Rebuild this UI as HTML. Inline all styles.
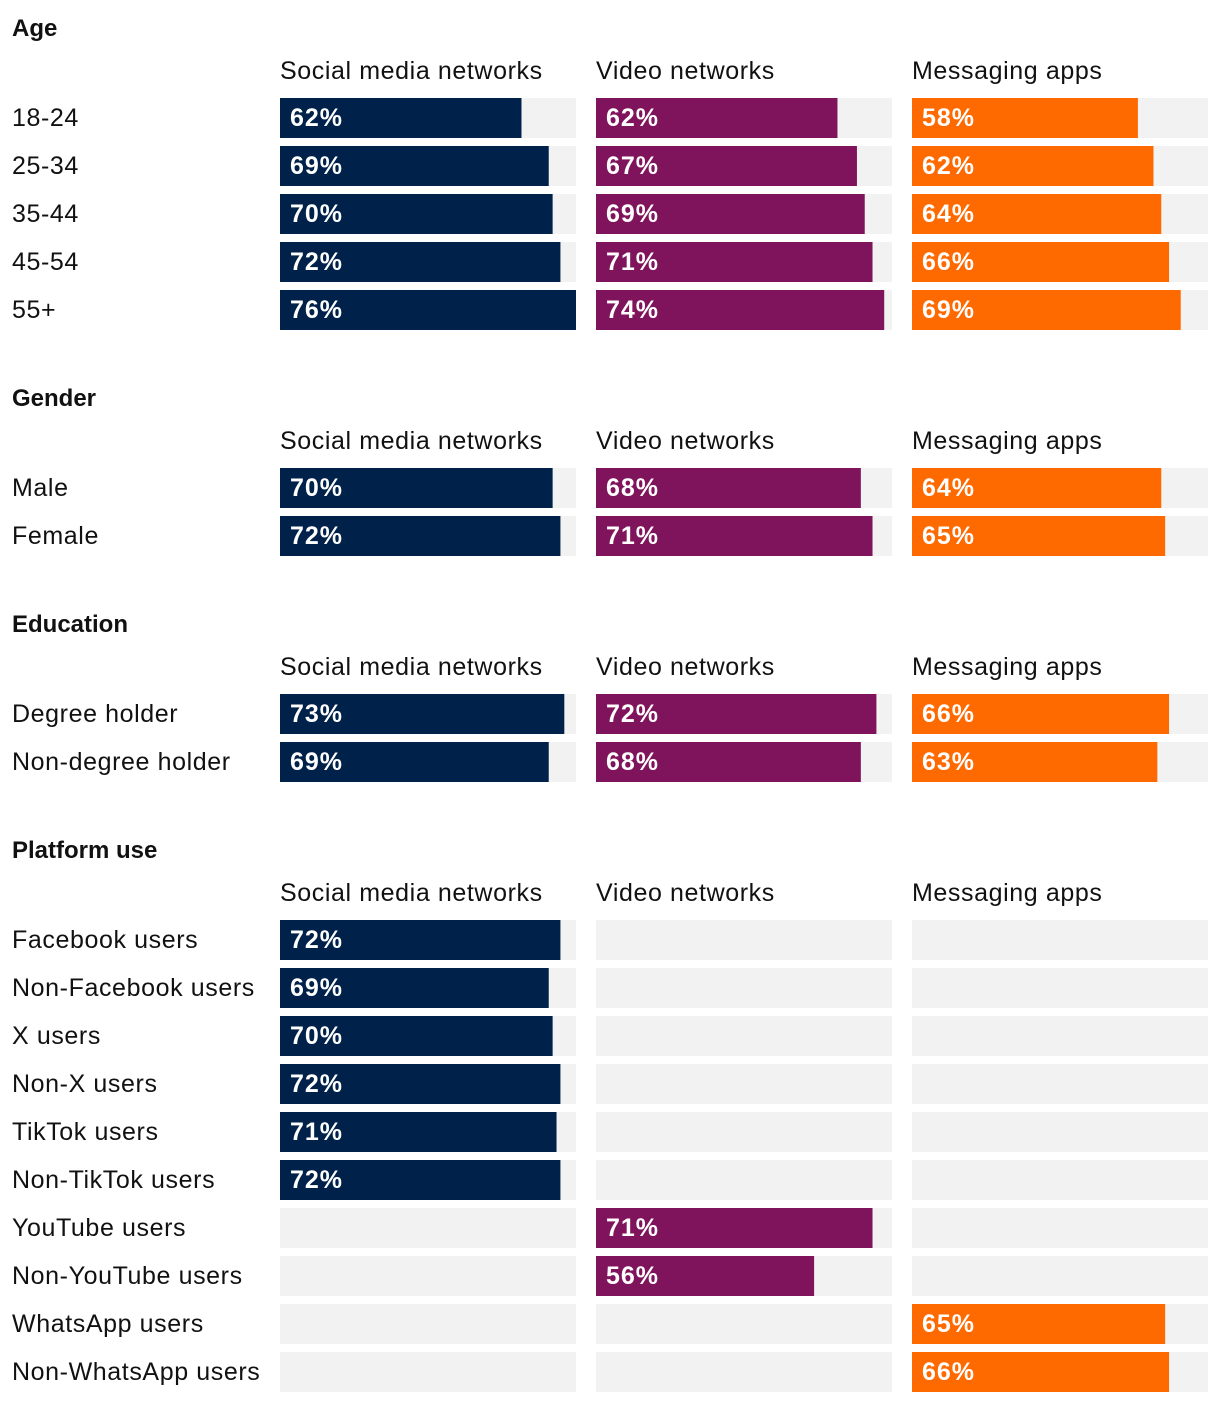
<!DOCTYPE html>
<html><head><meta charset="utf-8"><style>
html,body{margin:0;padding:0;background:#fff;}
svg{display:block;font-family:"Liberation Sans",sans-serif;}
</style></head><body>
<svg id="chart" width="1220" height="1402" viewBox="0 0 1220 1402" xmlns="http://www.w3.org/2000/svg"></svg>
<script>
const sectionTitles = ["Age", "Gender", "Education", "Platform use"];
const columnNames = ["Social media networks", "Video networks", "Messaging apps"];
const ageRows = ["18-24", "25-34", "35-44", "45-54", "55+"];
const ageSocial = [62, 69, 70, 72, 76];
const ageVideo = [62, 67, 69, 71, 74];
const ageMessaging = [58, 62, 64, 66, 69];
const genderRows = ["Male", "Female"];
const genderSocial = [70, 72];
const genderVideo = [68, 71];
const genderMessaging = [64, 65];
const eduRows = ["Degree holder", "Non-degree holder"];
const eduSocial = [73, 69];
const eduVideo = [72, 68];
const eduMessaging = [66, 63];
const platRows = ["Facebook users", "Non-Facebook users", "X users", "Non-X users", "TikTok users", "Non-TikTok users", "YouTube users", "Non-YouTube users", "WhatsApp users", "Non-WhatsApp users"];
const platSocial = [72, 69, 70, 72, 71, 72, null, null, null, null];
const platVideo = [null, null, null, null, null, null, 71, 56, null, null];
const platMessaging = [null, null, null, null, null, null, null, null, 65, 66];

const sections = [
  {rows: ageRows, series: [ageSocial, ageVideo, ageMessaging]},
  {rows: genderRows, series: [genderSocial, genderVideo, genderMessaging]},
  {rows: eduRows, series: [eduSocial, eduVideo, eduMessaging]},
  {rows: platRows, series: [platSocial, platVideo, platMessaging]}
];
const colX = [280, 596, 912];
const colW = 296;
const maxVal = 76;
const colors = ["#00214a", "#80145c", "#ff6a00"];
const xScale = v => v / maxVal * colW;
const NS = "http://www.w3.org/2000/svg";
const svg = document.getElementById("chart");
function mk(tag, attrs, text) {
  const e = document.createElementNS(NS, tag);
  for (const k in attrs) e.setAttribute(k, attrs[k]);
  if (text !== undefined) e.textContent = text;
  svg.appendChild(e);
  return e;
}
let secTop = 28;
sections.forEach((sec, si) => {
  const t = mk("text", {x: 12, y: secTop + 8, "font-size": 24, "font-weight": "bold", fill: "#111"}, sectionTitles[si]);
  
  
  columnNames.forEach((cn, ci) => {
    const h = mk("text", {x: colX[ci], y: secTop + 51, "font-size": 25, "letter-spacing": 0.6, fill: "#111"}, cn);
    
    
  });
  sec.rows.forEach((rn, ri) => {
    const y = secTop + 70 + ri * 48;
    const l = mk("text", {x: 12, y: y + 28, "font-size": 25, "letter-spacing": 0.6, fill: "#111"}, rn);
    
    
    sec.series.forEach((arr, ci) => {
      const bg = mk("rect", {x: colX[ci], y: y, width: colW, height: 40, fill: "#f2f2f2"});
      
      
      const v = arr[ri];
      if (v !== null && v !== undefined) {
        const b = mk("rect", {x: colX[ci], y: y, width: xScale(v), height: 40, fill: colors[ci]});
        
        
        const vt = mk("text", {x: colX[ci] + 10, y: y + 28, "font-size": 25, "letter-spacing": 1, "font-weight": "bold", fill: "#fff"}, v + "%");
        
        
      }
    });
  });
  secTop = secTop + 70 + sec.rows.length * 48 + 60;
});
</script>
</body></html>
